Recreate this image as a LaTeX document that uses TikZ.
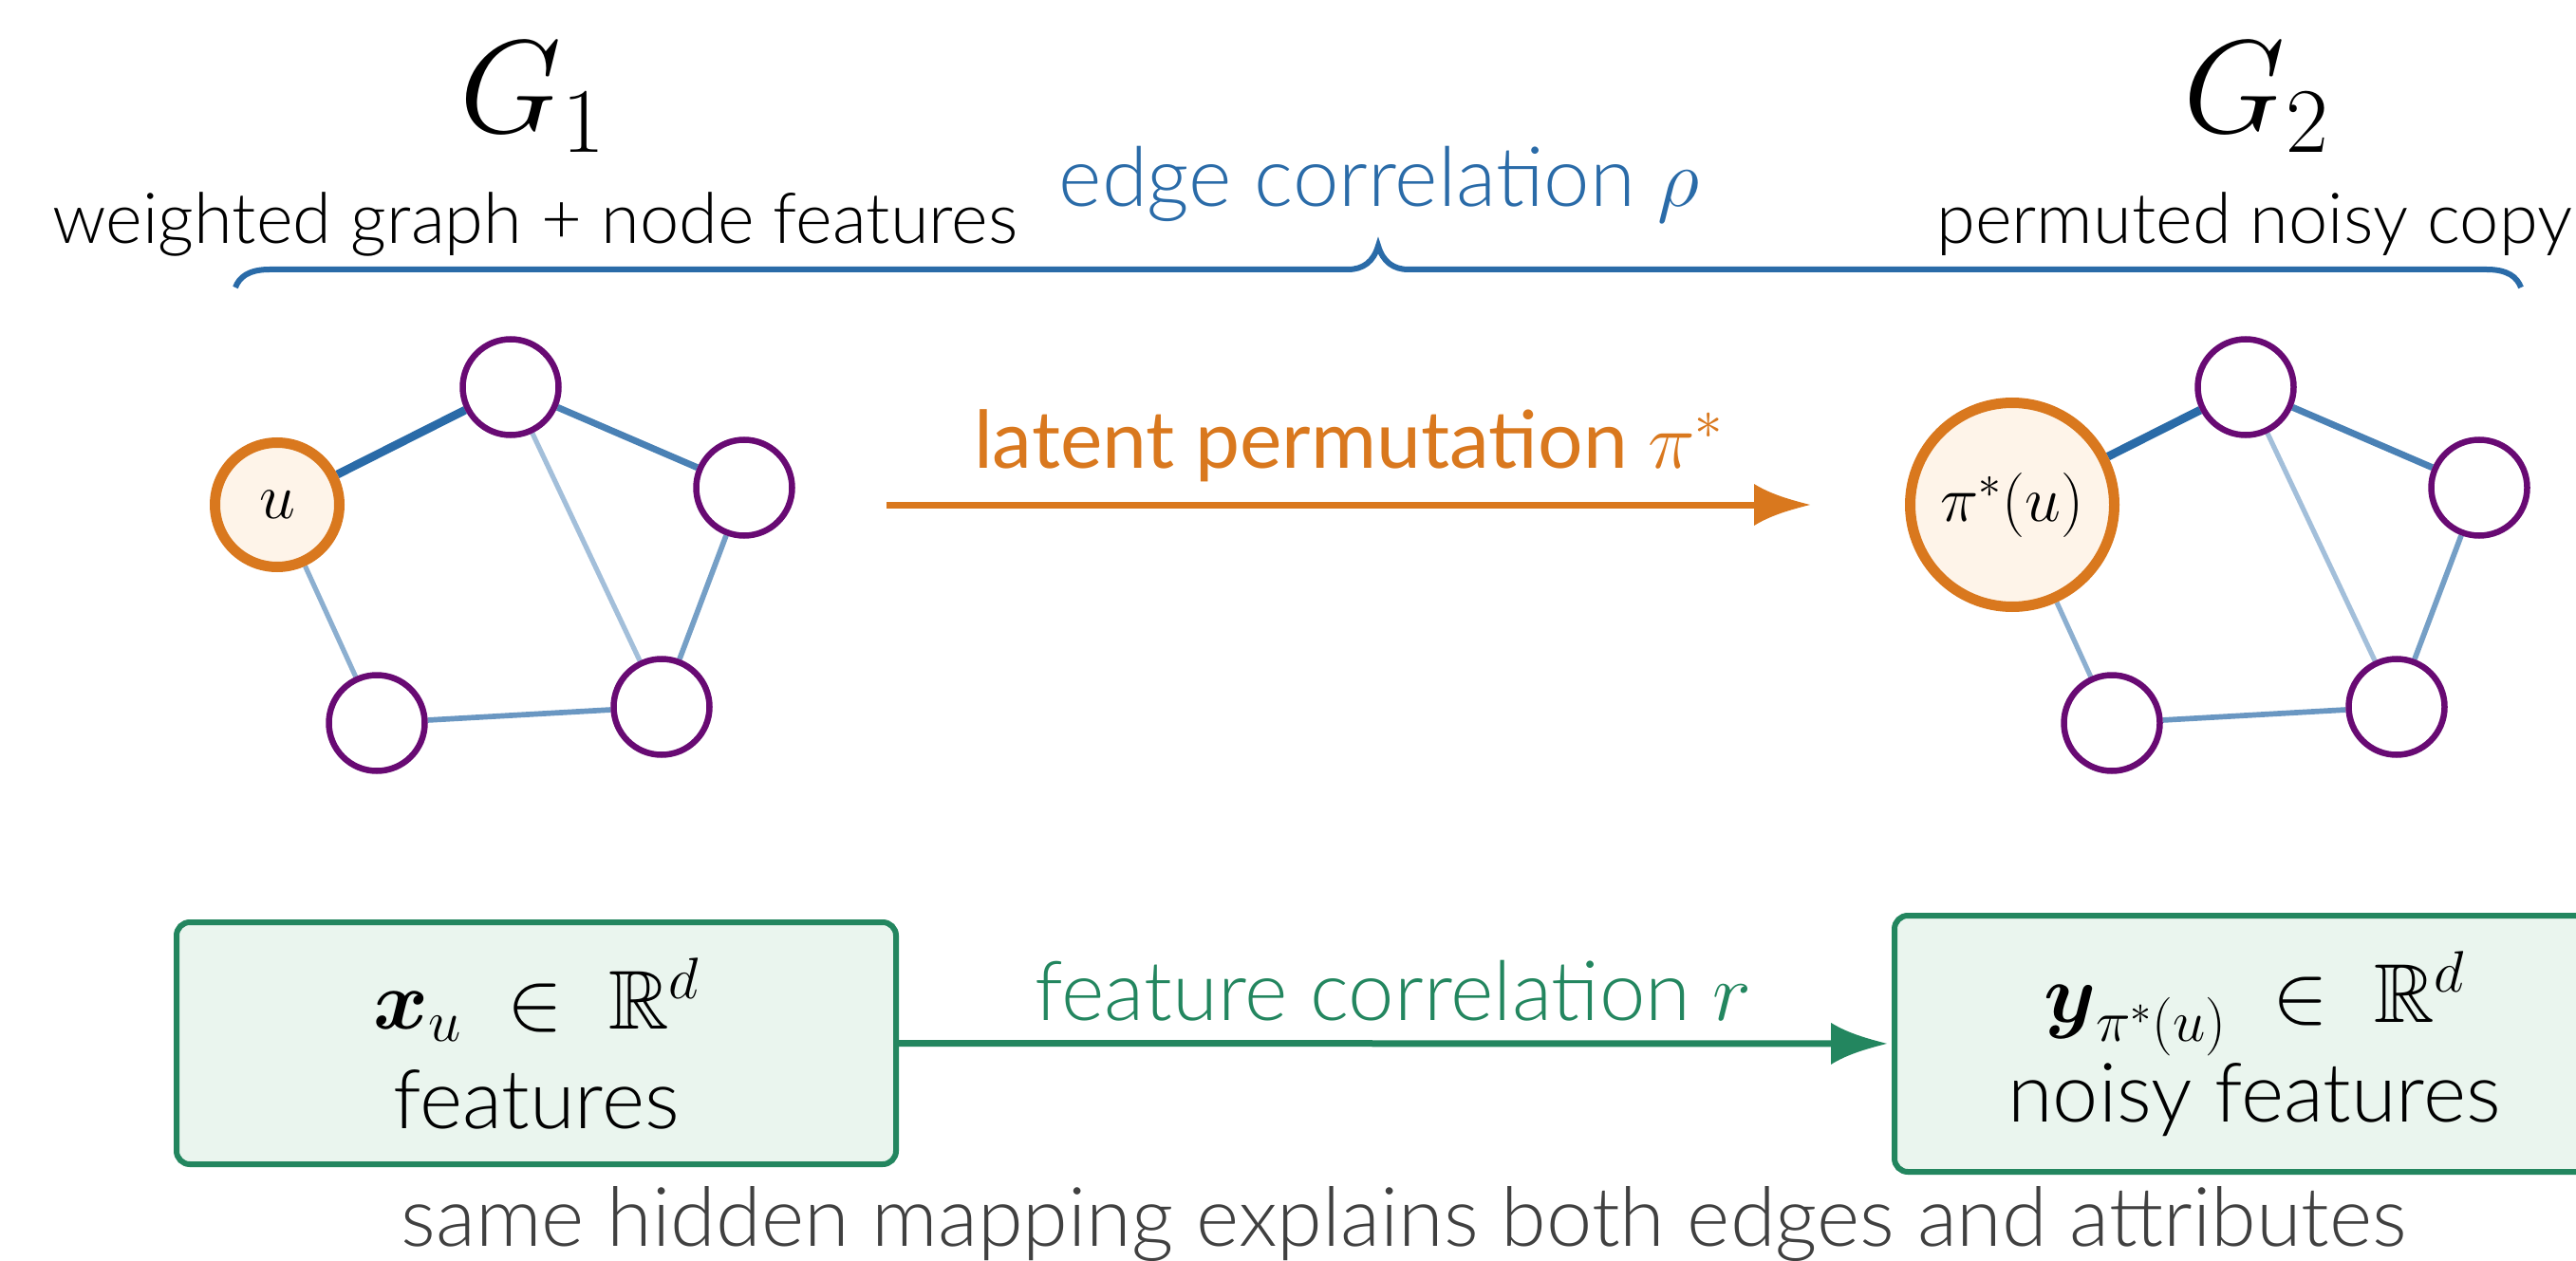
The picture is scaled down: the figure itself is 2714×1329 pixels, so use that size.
\documentclass[tikz,border=0pt]{standalone}
\usepackage{fix-cm}
\usepackage{amsmath,amssymb}
\usepackage{fontspec}
\newfontfamily\lightfont{Lato Light}
\newfontfamily\regfont{Lato}
\usetikzlibrary{arrows.meta}

\definecolor{orangec}{RGB}{217,120,30}
\definecolor{orangefill}{RGB}{254,244,233}
\definecolor{purplec}{RGB}{104,10,115}
\definecolor{bluec}{RGB}{42,107,168}
\definecolor{greenc}{RGB}{35,134,95}
\definecolor{greenfill}{RGB}{234,245,238}
\definecolor{capgray}{RGB}{64,64,64}

% filled head with slightly concave flanks
\pgfdeclarearrow{
  name = Concave Tri,
  defaults = {length = 59pt, width = 44pt},
  parameters = {\the\pgfarrowlength,\the\pgfarrowwidth},
  setup code = {
    \pgfarrowssettipend{0pt}
    \pgfarrowssetbackend{-\pgfarrowlength}
    \pgfarrowssetlineend{-0.5\pgfarrowlength}
    \pgfarrowssavethe\pgfarrowlength
    \pgfarrowssavethe\pgfarrowwidth
  },
  drawing code = {
    \pgfpathmoveto{\pgfqpoint{0pt}{0pt}}
    \pgfpathcurveto{\pgfqpoint{-0.35\pgfarrowlength}{0.12\pgfarrowwidth}}{\pgfqpoint{-0.7\pgfarrowlength}{0.25\pgfarrowwidth}}{\pgfqpoint{-\pgfarrowlength}{0.5\pgfarrowwidth}}
    \pgfpathlineto{\pgfqpoint{-\pgfarrowlength}{-0.5\pgfarrowwidth}}
    \pgfpathcurveto{\pgfqpoint{-0.7\pgfarrowlength}{-0.25\pgfarrowwidth}}{\pgfqpoint{-0.35\pgfarrowlength}{-0.12\pgfarrowwidth}}{\pgfqpoint{0pt}{0pt}}
    \pgfpathclose
    \pgfusepathqfill
  }
}

\pgfdeclarelayer{edges}
\pgfsetlayers{edges,main}

\begin{document}
\begin{tikzpicture}[x=1pt, y=-1pt,
  vnode/.style={circle, draw=purplec, line width=6.5pt, fill=white,
    minimum size=101pt, inner sep=0pt},
  unode/.style={circle, draw=orangec, line width=11pt, fill=orangefill,
    minimum size=131pt, inner sep=0pt, font=\fontsize{68}{80}\selectfont},
  bignode/.style={unode, minimum size=215pt},
  title/.style={anchor=base, font=\fontsize{139}{160}\selectfont},
  subtitle/.style={anchor=base, font=\lightfont\fontsize{74}{90}\selectfont},
  label/.style={anchor=base, font=\lightfont\fontsize{87}{105}\selectfont},
  featbox/.style={rounded corners=14pt, draw=greenc, line width=6pt,
    fill=greenfill, minimum width=758pt, align=center, inner sep=0pt,
    font=\lightfont\fontsize{86.5}{105}\selectfont},
  flow/.style={line width=7pt, -{Concave Tri}},
]
\useasboundingbox (0,0) rectangle (2714,1329);

% headings
\node[title] (g1) at (561,140) {$G_1$};
\node[title] (g2) at (2377,140) {$G_2$};
\node[subtitle] (s1) at (564,257) {weighted graph + node features};
\node[subtitle] (s2) at (2375,257) {permuted noisy copy};
\node[label, text=bluec] (rho) at (1453,218) {edge correlation $\rho$};

% brace spanning both graphs
\draw[bluec, line width=6pt]
  (248,303) .. controls (252,292) and (262,284) .. (284,284)
  -- (1420,284) .. controls (1436,284) and (1447,276) .. (1452,259)
  .. controls (1457,276) and (1468,284) .. (1484,284)
  -- (2620,284) .. controls (2642,284) and (2652,292) .. (2656,303);

% first graph
\node[unode] (u1) at (292,532) {$u$};
\node[vnode] (a1) at (538,408) {};
\node[vnode] (b1) at (784,514) {};
\node[vnode] (c1) at (397,762) {};
\node[vnode] (d1) at (697,745) {};

% second graph
\node[bignode] (u2) at (2120,532) {$\pi^*(u)$};
\node[vnode] (a2) at (2366,408) {};
\node[vnode] (b2) at (2612,514) {};
\node[vnode] (c2) at (2225,762) {};
\node[vnode] (d2) at (2525,745) {};

\begin{pgfonlayer}{edges}
\foreach \g in {1,2}{
  \draw[bluec, line width=8.8pt] (u\g) -- (a\g);
  \draw[bluec!85!white, line width=7pt] (a\g) -- (b\g);
  \draw[bluec!43!white, line width=5.2pt] (a\g) -- (d\g);
  \draw[bluec!65!white, line width=5.7pt] (b\g) -- (d\g);
  \draw[bluec!54!white, line width=5.2pt] (u\g) -- (c\g);
  \draw[bluec!70!white, line width=5.7pt] (c\g) -- (d\g);
}
\end{pgfonlayer}

% permutation arrow
\coordinate (p0) at (934,532);
\coordinate (p1) at (1907,532);
\draw[flow, orangec] (p0) -- (p1);
\node[label, text=orangec, font=\regfont\fontsize{84}{100}\selectfont] (perm)
  at (1421,493) {latent permutation $\pi^*$};

% feature boxes
\node[featbox, minimum height=255pt] (fx) at (565,1099.5)
  {{\fontsize{88}{105}\selectfont $\boldsymbol{x}_u\ \in\ \mathbb{R}^d$}\\features};
\node[featbox, minimum height=270pt] (fy) at (2375,1100)
  {{\fontsize{88}{105}\selectfont $\boldsymbol{y}_{\pi^*(u)}\ \in\ \mathbb{R}^d$}\\noisy features};
\draw[flow, greenc, shorten >=5pt] (fx) -- (fy);
\node[label, text=greenc] (fr) at (1468,1075) {feature correlation $r$};

% caption
\node[label, text=capgray, font=\lightfont\fontsize{86.6}{105}\selectfont] (cap)
  at (1479,1313) {same hidden mapping explains both edges and attributes};
\end{tikzpicture}
\end{document}
